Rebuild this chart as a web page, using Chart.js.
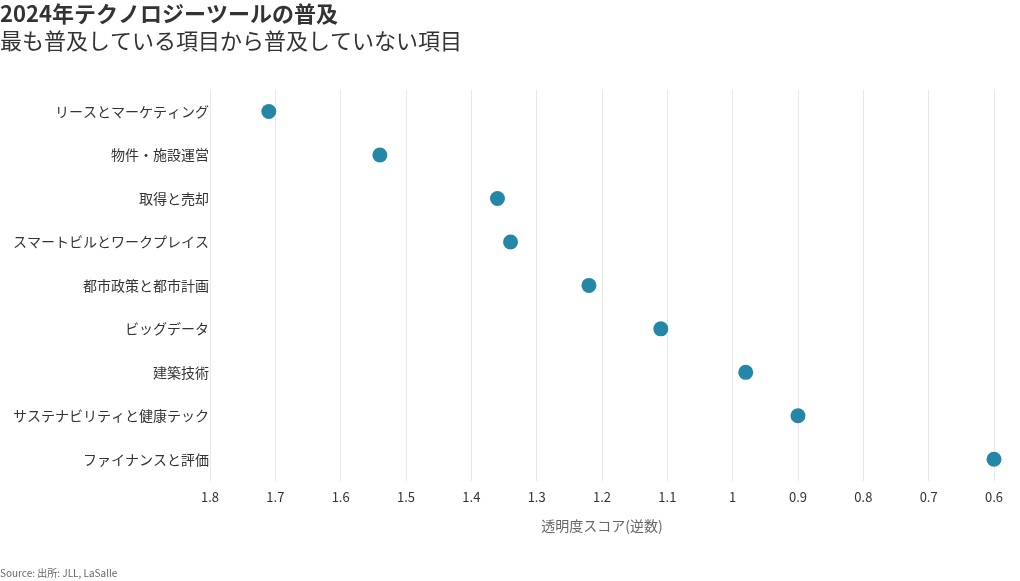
<!DOCTYPE html>
<html>
<head>
<meta charset="utf-8">
<script src="https://cdn.jsdelivr.net/npm/chart.js@4.4.1/dist/chart.umd.min.js"></script>
<style>
  body { margin: 0; background: #fff; }
  #wrap { position: relative; width: 1020px; height: 581px; }
</style>
</head>
<body>
<div id="wrap"><canvas id="Chart_Tech"></canvas></div>
<script>
// categories, top to bottom
var categories = ["リースとマーケティング", "物件・施設運営", "取得と売却", "スマートビルとワークプレイス",
    "都市政策と都市計画", "ビッグデータ", "建築技術", "サステナビリティと健康テック", "ファイナンスと評価"];
// transparency score (inverse)
var scores = [1.71, 1.54, 1.36, 1.34, 1.22, 1.11, 0.98, 0.90, 0.60];
var xTicks = [1.8, 1.7, 1.6, 1.5, 1.4, 1.3, 1.2, 1.1, 1, 0.9, 0.8, 0.7, 0.6];

var titleText = "2024年テクノロジーツールの普及";
var subText = "最も普及している項目から普及していない項目";
var axisText = "透明度スコア(逆数)";
var sourceText = "Source: 出所: JLL, LaSalle";

var FONT = "'Noto Sans CJK JP', 'Noto Sans', sans-serif";
Chart.defaults.font.family = FONT;
Chart.defaults.color = "#333";

var pts = [];
for (var i = 0; i < categories.length; i++) {
    pts.push({ x: scores[i], y: categories[i] });
}

var sourcePlugin = {
    id: "sourceNote",
    afterDraw: function (chart) {
        var c = chart.ctx;
        c.save();
        c.font = "10px " + FONT;
        c.fillStyle = "#666";
        c.textBaseline = "middle";
        c.textAlign = "left";
        c.fillText(sourceText, 0, 573);
        c.restore();
    }
};

var ctx = document.getElementById("Chart_Tech");
var chart = new Chart(ctx, {
    type: "scatter",
    data: {
        datasets: [{
            data: pts,
            backgroundColor: "#2587a8",
            borderColor: "#2587a8",
            pointRadius: 7.5,
            pointHoverRadius: 7.5,
            borderWidth: 0,
            clip: false
        }]
    },
    options: {
        responsive: true,
        maintainAspectRatio: false,
        animation: false,
        layout: { padding: { left: 0, right: 26, top: 0, bottom: 40 } },
        plugins: {
            legend: { display: false },
            tooltip: { enabled: false },
            title: {
                display: true, text: titleText, align: "start", color: "#333",
                font: { size: 22, weight: "bold" }, padding: { top: 0, bottom: 0 }
            },
            subtitle: {
                display: true, text: subText, align: "start", color: "#333",
                font: { size: 22, weight: "normal" }, padding: { top: 1, bottom: 36 }
            }
        },
        scales: {
            x: {
                type: "linear",
                reverse: true,
                min: 0.6,
                max: 1.8,
                afterBuildTicks: function (s) {
                    s.ticks = xTicks.map(function (v) { return { value: v }; });
                },
                afterFit: function (s) { s.height = 60; },
                ticks: {
                    padding: 8, color: "#333", font: { size: 13 },
                    callback: function (v) { return String(Math.round(v * 10) / 10); }
                },
                grid: { color: "#e8e8e8", drawTicks: false },
                border: { display: false },
                title: {
                    display: true, text: axisText, color: "#666",
                    font: { size: 14 }, padding: { top: 4, bottom: 7 }
                }
            },
            y: {
                type: "category",
                labels: categories,
                offset: true,
                afterFit: function (s) { s.width = 210; },
                ticks: { padding: 1, color: "#333", font: { size: 14 } },
                grid: { display: false, drawTicks: false },
                border: { display: false }
            }
        }
    },
    plugins: [sourcePlugin]
});
</script>
</body>
</html>
